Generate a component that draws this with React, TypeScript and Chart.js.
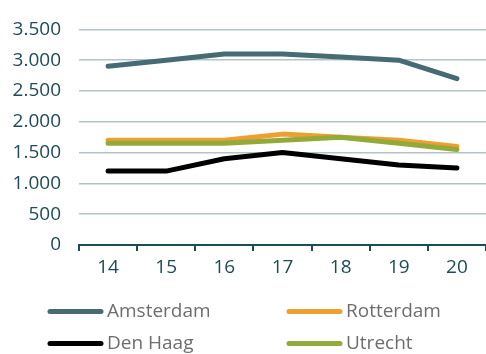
import React, { useEffect, useRef } from "react";
import { Chart, registerables } from "chart.js";

Chart.register(...registerables);

const categories = ["14", "15", "16", "17", "18", "19", "20"];
const seriesNames = ["Amsterdam", "Rotterdam", "Den Haag", "Utrecht"];
const amsterdam = [2900, 3000, 3100, 3100, 3050, 3000, 2700];
const rotterdam = [1700, 1700, 1700, 1800, 1750, 1700, 1600];
const denHaag = [1200, 1200, 1400, 1500, 1400, 1300, 1250];
const utrecht = [1650, 1650, 1650, 1700, 1750, 1650, 1550];
const seriesColors = ["#466b75", "#eda02f", "#000000", "#93a93a"];
const yMin = 0;
const yMax = 3500;
const yStep = 500;

const W = 486;
const H = 354;
const FONT = "'Open Sans', sans-serif";

function fmt(v: number): string {
  return String(Math.round(v)).replace(/\B(?=(\d{3})+(?!\d))/g, ".");
}

const legendPlugin = {
  id: "customLegend",
  afterDraw(chart: any) {
    const ctx = chart.ctx;
    const ds = chart.data.datasets;
    const cols = [48, 287];
    const rows = [311.5, 343.5];
    ctx.save();
    ds.forEach((d: any, i: number) => {
      const x = cols[i % 2];
      const y = rows[Math.floor(i / 2)];
      ctx.strokeStyle = d.borderColor;
      ctx.lineWidth = 5;
      ctx.lineCap = "round";
      ctx.beginPath();
      ctx.moveTo(x + 2, y);
      ctx.lineTo(x + 53, y);
      ctx.stroke();
      ctx.fillStyle = "#6d6d6d";
      ctx.font = `19px ${FONT}`;
      ctx.textBaseline = "middle";
      ctx.textAlign = "left";
      ctx.fillText(d.label, x + 59, y);
    });
    ctx.restore();
  },
};

export default function App() {
  const ref = useRef<HTMLCanvasElement | null>(null);
  useEffect(() => {
    if (!ref.current) return;
    const values = [amsterdam, rotterdam, denHaag, utrecht];
    const orders = [3, 2, 1, 0];
    const chart = new Chart(ref.current, {
      type: "line",
      data: {
        labels: categories,
        datasets: seriesNames.map((name, i) => ({
          label: name,
          data: values[i],
          borderColor: seriesColors[i],
          backgroundColor: seriesColors[i],
          borderWidth: 5,
          pointRadius: 0,
          tension: 0,
          borderCapStyle: "round",
          borderJoinStyle: "round",
          order: orders[i],
        })),
      },
      options: {
        responsive: false,
        animation: false,
        layout: { padding: { top: 24, right: -2, left: 0, bottom: 64 } },
        plugins: { legend: { display: false }, tooltip: { enabled: false } },
        scales: {
          x: {
            offset: true,
            grid: {
              offset: true,
              drawOnChartArea: false,
              drawTicks: true,
              tickLength: 6,
              color: "#1d4b57",
              lineWidth: 2,
            },
            border: { display: true, color: "#1d4b57", width: 2 },
            ticks: {
              color: "#1d4b57",
              font: { family: FONT, size: 19 },
              padding: 5,
              maxRotation: 0,
            },
            afterFit: (s: any) => {
              s.height = 45;
            },
          },
          y: {
            min: yMin,
            max: yMax,
            grid: { color: "#b3c3c6", lineWidth: 1.5, drawTicks: false },
            border: { display: false },
            ticks: {
              stepSize: yStep,
              color: "#1d4b57",
              font: { family: FONT, size: 19 },
              padding: 18,
              callback: (v: any) => fmt(Number(v)),
            },
            afterFit: (s: any) => {
              s.width = 79;
            },
          },
        },
      },
      plugins: [legendPlugin],
    });
    return () => chart.destroy();
  }, []);
  return (
    <div style={{ position: "absolute", left: 0, top: 0, width: W, height: H, background: "#fff" }}>
      <canvas ref={ref} width={W} height={H} style={{ display: "block", width: W, height: H }} />
    </div>
  );
}
